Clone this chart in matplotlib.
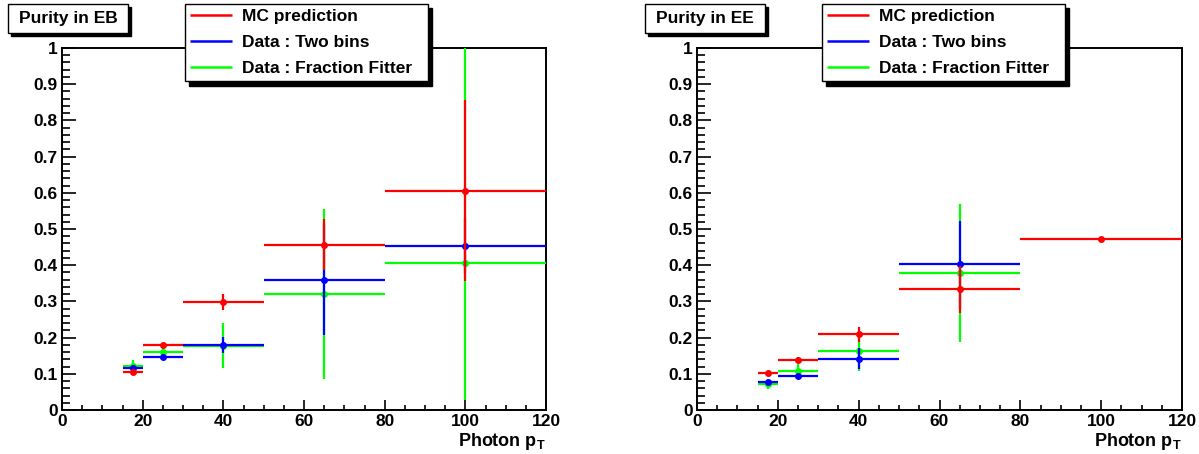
import numpy as np
import matplotlib
matplotlib.use("Agg")
import matplotlib.pyplot as plt
from matplotlib.patches import Rectangle
from matplotlib.ticker import MultipleLocator, FuncFormatter

plt.rcParams['font.family'] = ['Liberation Sans', 'DejaVu Sans']
plt.rcParams['font.weight'] = 'bold'
plt.rcParams['mathtext.fontset'] = 'custom'
plt.rcParams['mathtext.bf'] = 'Liberation Sans:bold'
plt.rcParams['mathtext.rm'] = 'Liberation Sans:bold'
plt.rcParams['mathtext.it'] = 'Liberation Sans:bold'
plt.rcParams['mathtext.default'] = 'bf'

# pT bins
bin_lo = [15, 20, 30, 50, 80]
bin_hi = [20, 30, 50, 80, 120]
pt = [17.5, 25, 40, 65, 100]

series_labels = ["MC prediction", "Data : Two bins", "Data : Fraction Fitter"]
series_colors = ["#ff0000", "#0000ff", "#00ff00"]

# barrel (EB)
eb_mc = [0.105, 0.180, 0.299, 0.457, 0.605]
eb_mc_err = [0.005, 0.006, 0.022, 0.071, 0.25]
eb_two = [0.117, 0.147, 0.180, 0.360, 0.453]
eb_two_err = [0.006, 0.007, 0.023, 0.153, 0.075]
eb_ff = [0.122, 0.160, 0.178, 0.320, 0.405]
eb_ff_err_lo = [0.015, 0.012, 0.062, 0.234, 0.377]
eb_ff_err_hi = [0.015, 0.012, 0.062, 0.234, 0.600]

# endcap (EE)
ee_mc = [0.102, 0.139, 0.209, 0.333, 0.473]
ee_mc_err = [0.005, 0.007, 0.02, 0.065, 0.005]
ee_two = [0.078, 0.093, 0.142, 0.403]
ee_two_err = [0.006, 0.006, 0.028, 0.12]
ee_ff = [0.072, 0.108, 0.162, 0.378]
ee_ff_err = [0.015, 0.02, 0.055, 0.19]

W, H = 1199, 454
fig = plt.figure(figsize=(W / 100, H / 100), dpi=100)


def px_box(x0, y0, x1, y1):
    # pixel box (from top-left) -> figure fraction rect
    return (x0 / W, 1 - y1 / H, (x1 - x0) / W, (y1 - y0) / H)


def title_box(x0, y0, x1, y1, text):
    sh = 3
    fig.patches.append(Rectangle(px_box(x0 + sh, y0 + sh, x1 + sh, y1 + sh)[:2],
                                 (x1 - x0) / W, (y1 - y0) / H, transform=fig.transFigure,
                                 facecolor='black', edgecolor='black', zorder=5))
    fig.patches.append(Rectangle(px_box(x0, y0, x1, y1)[:2],
                                 (x1 - x0) / W, (y1 - y0) / H, transform=fig.transFigure,
                                 facecolor='white', edgecolor='black', lw=1.0, zorder=6))
    fig.text((x0 + x1) / 2 / W, 1 - (y0 + y1) / 2 / H, text, ha='center', va='center',
             fontsize=12.5, fontweight='bold', zorder=7)


def panel(ax, mc, mc_err, two, two_err, ff, ff_err, title, tbox, lbox):
    n2 = len(two)
    x = np.array(pt)
    xl = x - np.array(bin_lo)
    xh = np.array(bin_hi) - x
    kw = dict(fmt='o', ms=4, lw=1.6, capsize=0, clip_on=True)
    h_ff = ax.errorbar(x[:n2], ff, yerr=ff_err, xerr=[xl[:n2], xh[:n2]],
                       color=series_colors[2], zorder=3, **kw)
    h_two = ax.errorbar(x[:n2], two, yerr=two_err, xerr=[xl[:n2], xh[:n2]],
                        color=series_colors[1], zorder=4, **kw)
    h_mc = ax.errorbar(x, mc, yerr=mc_err, xerr=[xl, xh],
                       color=series_colors[0], zorder=5, **kw)

    ax.set_xlim(0, 120)
    ax.set_ylim(0, 1)
    ax.xaxis.set_major_locator(MultipleLocator(20))
    ax.xaxis.set_minor_locator(MultipleLocator(5))
    ax.yaxis.set_major_locator(MultipleLocator(0.1))
    ax.yaxis.set_minor_locator(MultipleLocator(0.02))
    ax.yaxis.set_major_formatter(FuncFormatter(lambda v, p: f"{v:g}"))
    ax.tick_params(axis='both', which='both', direction='in', top=False, right=False,
                   labelsize=12.5, width=1.2)
    ax.tick_params(axis='y', which='major', length=10, pad=3)
    ax.tick_params(axis='y', which='minor', length=5.5)
    ax.tick_params(axis='x', which='major', length=7, pad=3)
    ax.tick_params(axis='x', which='minor', length=3.5)
    for s in ax.spines.values():
        s.set_linewidth(1.4)
    for lab in ax.get_xticklabels() + ax.get_yticklabels():
        lab.set_fontweight('bold')
    ax.set_xlabel(r"Photon p$_\mathbf{T}$", fontsize=13, fontweight='bold',
                  loc='right', labelpad=1)

    title_box(*tbox, title)

    # legend shows the horizontal bin-width lines of each series
    handles = [h.lines[2][0] for h in (h_mc, h_two, h_ff)]
    x0, y0, x1, y1 = lbox
    leg = ax.legend(handles, series_labels, loc='upper left',
                    bbox_to_anchor=px_box(x0, y0, x1, y1), bbox_transform=fig.transFigure,
                    mode='expand', borderaxespad=0, fancybox=False, framealpha=1,
                    edgecolor='black', prop={'size': 12.5, 'weight': 'bold'},
                    handlelength=2.4, handletextpad=0.6, labelspacing=0.62,
                    borderpad=0.3,
                    shadow={'ox': 3, 'oy': -3, 'color': 'black', 'alpha': 1})
    leg.get_frame().set_linewidth(1.0)
    leg.set_zorder(10)
    for h in leg.legend_handles:
        try:
            h.set_linewidth(1.8)
        except Exception:
            pass
    return ax


ax1 = fig.add_axes([62 / W, 1 - 410 / H, (546 - 62) / W, (410 - 48) / H])
ax2 = fig.add_axes([697 / W, 1 - 410 / H, (1182 - 697) / W, (410 - 48) / H])

panel(ax1, eb_mc, eb_mc_err, eb_two, eb_two_err, eb_ff, [eb_ff_err_lo, eb_ff_err_hi],
      "Purity in EB", (8, 4, 128, 33), (185, 4, 428, 80))
panel(ax2, ee_mc, ee_mc_err, ee_two, ee_two_err, ee_ff, ee_ff_err,
      "Purity in EE", (645, 4, 765, 33), (822, 4, 1065, 80))

fig.savefig("out.png", dpi=100)
